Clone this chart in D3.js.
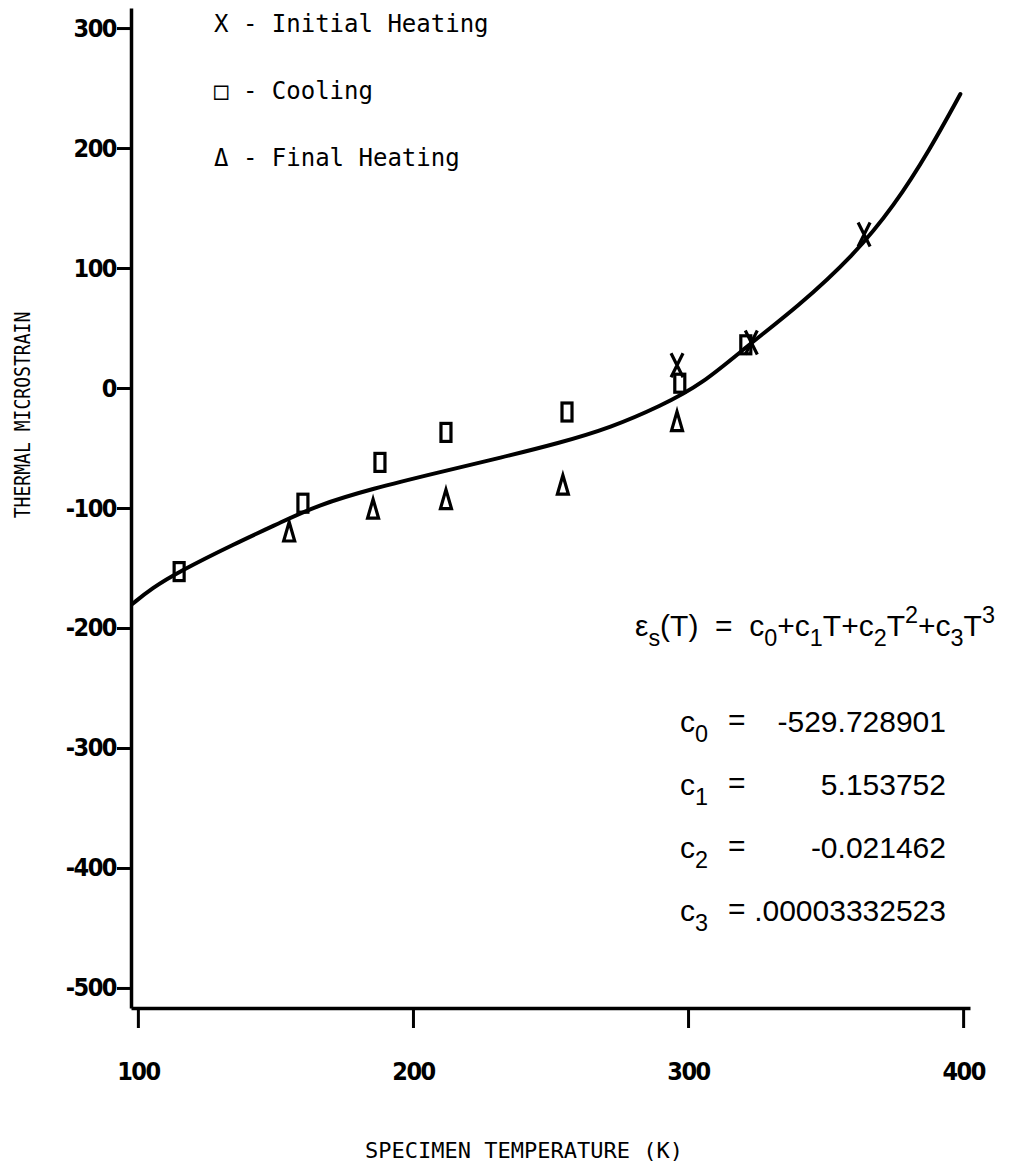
<!DOCTYPE html>
<html>
<head>
<meta charset="utf-8">
<script src="https://cdn.jsdelivr.net/npm/d3@7"></script>
<style>
  body { margin: 0; background: #fff; }
  svg { display: block; }
  text { white-space: pre; }
</style>
</head>
<body>
<script>
// ---------------- data ----------------
const tempTicks   = [100, 200, 300, 400];
const strainTicks = [300, 200, 100, 0, -100, -200, -300, -400, -500];

// fitted curve
const fitTemp   = [98, 105, 115, 135, 152, 165, 185, 210, 232, 253, 272, 290, 305, 322, 340, 360, 375, 388, 399];
const fitStrain = [-180, -167, -153, -130, -112, -98, -84, -70, -58, -46, -33, -15, 3, 36, 68, 110, 152, 199, 245];

const initialTemp   = [296, 323, 364];
const initialStrain = [19, 38, 128];

const coolingTemp   = [115, 160, 188, 212, 256, 297, 321];
const coolingStrain = [-153, -96, -62, -37, -20, 4, 36];

const finalTemp   = [155, 185.5, 212, 254.5, 296];
const finalStrain = [-120, -101, -93, -81, -28];

const legendLabels = ["X - Initial Heating", "\u25A1 - Cooling", "\u0394 - Final Heating"];
const coefIndex  = ["0", "1", "2", "3"];
const coefValues = ["-529.728901", "5.153752", "-0.021462", ".00003332523"];
const xTitle = "SPECIMEN TEMPERATURE (K)";
const yTitle = "THERMAL MICROSTRAIN";

// ---------------- chart ----------------
const W = 1014, H = 1175;
const svg = d3.select("body").append("svg").attr("width", W).attr("height", H);

const x = d3.scaleLinear().domain([97.5, 402.5]).range([131, 970]);
const y = d3.scaleLinear().domain([-516.7, 316.7]).range([1008, 8]);

const tickFont = "'DejaVu Sans Condensed', 'DejaVu Sans', sans-serif";
const monoFont = "'DejaVu Sans Mono', monospace";
const eqFont   = "'Liberation Sans', Arial, sans-serif";

// y axis
const gy = svg.append("g").attr("transform", "translate(131,0)")
  .call(d3.axisLeft(y).tickValues(strainTicks).tickSize(14).tickSizeOuter(0).tickPadding(1).tickFormat(d => String(d)));
// x axis
const gx = svg.append("g").attr("transform", "translate(0,1008)")
  .call(d3.axisBottom(x).tickValues(tempTicks).tickSize(20).tickSizeOuter(0).tickPadding(34).tickFormat(d => String(d)));

[gx, gy].forEach(g => {
  g.select(".domain").attr("stroke", "#000").attr("stroke-width", 3.5);
  g.selectAll(".tick line").attr("stroke", "#000").attr("stroke-width", 3);
  g.selectAll(".tick text")
    .attr("fill", "#000")
    .style("font-family", tickFont)
    .style("font-weight", "bold")
    .style("font-size", "25px")
    .style("letter-spacing", "-1.5px");
});

// fitted curve
const fitData = fitTemp.map((t, i) => ({ t, v: fitStrain[i] }));
svg.append("path")
  .datum(fitData)
  .attr("fill", "none")
  .attr("stroke", "#000")
  .attr("stroke-width", 4)
  .attr("stroke-linecap", "round")
  .attr("d", d3.line().x(d => x(d.t)).y(d => y(d.v)).curve(d3.curveBasis));

// markers
const marks = svg.append("g").attr("fill", "none").attr("stroke", "#000").attr("stroke-width", 3.2);

marks.selectAll("rect.cool")
  .data(coolingTemp.map((t, i) => ({ t, v: coolingStrain[i] })))
  .join("rect").attr("class", "cool")
  .attr("x", d => x(d.t) - 5).attr("y", d => y(d.v) - 9)
  .attr("width", 10).attr("height", 18);

marks.selectAll("path.tri")
  .data(finalTemp.map((t, i) => ({ t, v: finalStrain[i] })))
  .join("path").attr("class", "tri")
  .attr("stroke-linejoin", "miter")
  .attr("d", d => {
    const cx = x(d.t), cy = y(d.v);
    return `M${cx},${cy - 10}L${cx + 5.5},${cy + 9}L${cx - 5.5},${cy + 9}Z`;
  });

marks.selectAll("path.xm")
  .data(initialTemp.map((t, i) => ({ t, v: initialStrain[i] })))
  .join("path").attr("class", "xm")
  .attr("d", d => {
    const cx = x(d.t), cy = y(d.v);
    return `M${cx - 6},${cy - 12}L${cx + 6},${cy + 12}M${cx + 6},${cy - 12}L${cx - 6},${cy + 12}`;
  });

// legend
svg.append("g").selectAll("text")
  .data(legendLabels)
  .join("text")
  .attr("x", 214)
  .attr("y", (d, i) => 32 + i * 67)
  .style("font-family", monoFont)
  .style("font-size", "24px")
  .attr("fill", "#000")
  .text(d => d);

// rich text: sub/superscripts shift with dy, the following part shifts back
function richText(sel, parts, size) {
  let back = 0;
  parts.forEach(p => {
    const ts = sel.append("tspan").text(p.t);
    let dy = back;
    back = 0;
    if (p.s === "sub") { dy += 10; back = -10; ts.style("font-size", size * 0.78 + "px"); }
    else if (p.s === "sup") { dy -= 13; back = 13; ts.style("font-size", size * 0.78 + "px"); }
    if (dy !== 0) ts.attr("dy", dy);
  });
}
const eq = svg.append("text").attr("x", 635).attr("y", 636)
  .style("font-family", eqFont).style("font-size", "30px").attr("fill", "#000");
richText(eq, [
  { t: "\u03B5" }, { t: "s", s: "sub" }, { t: "(T)  =  c" }, { t: "0", s: "sub" },
  { t: "+c" }, { t: "1", s: "sub" }, { t: "T+c" }, { t: "2", s: "sub" }, { t: "T" }, { t: "2", s: "sup" },
  { t: "+c" }, { t: "3", s: "sub" }, { t: "T" }, { t: "3", s: "sup" }
], 30);

const coef = svg.append("g").style("font-family", eqFont).style("font-size", "30px").attr("fill", "#000");
coefIndex.forEach((k, i) => {
  const by = 732 + i * 63;
  const lab = coef.append("text").attr("x", 680).attr("y", by);
  richText(lab, [{ t: "c" }, { t: k, s: "sub" }], 30);
  coef.append("text").attr("x", 728).attr("y", by - 2).text("=");
  coef.append("text").attr("x", 946).attr("y", by).attr("text-anchor", "end").text(coefValues[i]);
});

// axis titles
svg.append("text")
  .attr("x", 524).attr("y", 1158)
  .attr("text-anchor", "middle")
  .style("font-family", monoFont).style("font-size", "22px")
  .attr("fill", "#000")
  .text(xTitle);

svg.append("text")
  .attr("transform", "translate(30,415) rotate(-90) scale(0.86,1)")
  .attr("text-anchor", "middle")
  .style("font-family", monoFont).style("font-size", "21px")
  .attr("fill", "#000")
  .text(yTitle);
</script>
</body>
</html>
